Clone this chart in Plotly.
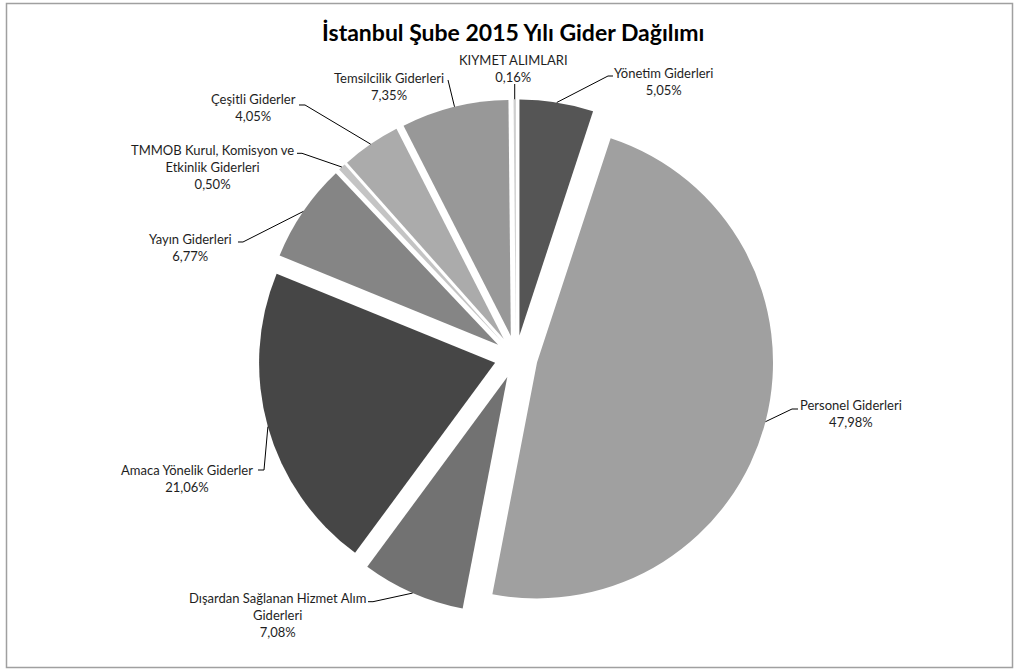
import math
import plotly.graph_objects as go

# ---------------- data ----------------
categories = [
    "Yönetim Giderleri",
    "Personel Giderleri",
    "Dışardan Sağlanan Hizmet Alım Giderleri",
    "Amaca Yönelik Giderler",
    "Yayın Giderleri",
    "TMMOB Kurul, Komisyon ve Etkinlik Giderleri",
    "Çeşitli Giderler",
    "Temsilcilik Giderleri",
    "KIYMET ALIMLARI",
]
values = [5.05, 47.98, 7.08, 21.06, 6.77, 0.50, 4.05, 7.35, 0.16]
label_lines = [
    ["Yönetim Giderleri"],
    ["Personel Giderleri"],
    ["Dışardan Sağlanan Hizmet Alım", "Giderleri"],
    ["Amaca Yönelik Giderler"],
    ["Yayın Giderleri"],
    ["TMMOB Kurul, Komisyon ve", "Etkinlik Giderleri"],
    ["Çeşitli Giderler"],
    ["Temsilcilik Giderleri"],
    ["KIYMET ALIMLARI"],
]
title_text = "İstanbul Şube 2015 Yılı Gider Dağılımı"

# ---------------- styles / layout ----------------
colors = ["#555555", "#a0a0a0", "#727272", "#464646", "#858585",
          "#c4c4c4", "#ababab", "#989898", "#cfcfcf"]
W, H = 1020, 670
PULL = 0.092
CX, CY, R = 516.0, 357.0, 236.0          # pie centre / radius in px
FONT = "Lato, 'Open Sans', sans-serif"
TXT = "#1e1e1e"
FS = 13

# label placement: (anchor x px, block centre y px, xanchor)
label_pos = [
    (613, 81.5, "left"),
    (799, 413.8, "left"),
    (367, 615, "right"),
    (254, 478.5, "right"),
    (233, 247.5, "right"),
    (295, 167.3, "right"),
    (297, 107.5, "right"),
    (445, 86.5, "right"),
    (513, 68.5, "center"),
]
# leader elbow points in px (after the arc point)
leader_pts = [
    [(608, 76), (613, 76)],
    [(792, 409), (798, 409)],
    [(373, 601.7), (368, 601.7)],
    [(264, 470), (258, 470)],
    [(243, 242), (238, 242)],
    [(302, 153.3), (297, 153.3)],
    [(305, 105), (299, 105)],
    [(448, 80)],
    [None],
]

def px2paper(x, y):
    return x / W, 1 - y / H

# pie domain derived from centre / radius (plotly: r = min(box)/(2+2*pull))
box = 2 * R * (1 + PULL)
dom_y = [1 - (CY + box / 2) / H, 1 - (CY - box / 2) / H]
dom_x = [(CX - 360) / W, (CX + 360) / W]

fig = go.Figure(go.Pie(
    labels=categories,
    values=values,
    sort=False,
    direction="clockwise",
    rotation=0,
    pull=[PULL] * len(values),
    marker=dict(colors=colors, line=dict(width=0)),
    textinfo="none",
    hoverinfo="label+percent",
    domain=dict(x=dom_x, y=dom_y),
    showlegend=False,
))

total = sum(values)
shapes, annotations = [], []
cum = 0.0
for i, v in enumerate(values):
    mid = (cum + v / 2) / total * 2 * math.pi
    cum += v
    dx, dy = math.sin(mid), -math.cos(mid)
    scx, scy = CX + PULL * R * dx, CY + PULL * R * dy
    ax, ay = scx + R * dx, scy + R * dy
    pts = [(ax, ay)]
    for p in leader_pts[i]:
        if p is None:
            pts.append((ax, 84))
        else:
            pts.append(p)
    path = "M " + " L ".join("%f,%f" % px2paper(x, y) for x, y in pts)
    shapes.append(dict(type="path", path=path, xref="paper", yref="paper",
                       line=dict(color="#000000", width=1)))
    pct = ("%.2f" % v).replace(".", ",") + "%"
    text = "<br>".join(label_lines[i] + [pct])
    lx, ly, xa = label_pos[i]
    px, py = px2paper(lx, ly)
    annotations.append(dict(x=px, y=py, xref="paper", yref="paper", text=text,
                            showarrow=False, xanchor=xa, yanchor="middle",
                            align="center", borderpad=0,
                            font=dict(family=FONT, size=FS, color=TXT)))

# chart border
x0, y0 = px2paper(6.5, 3.5)
x1, y1 = px2paper(1012.5, 667.5)
shapes.append(dict(type="rect", xref="paper", yref="paper", x0=x0, y0=y1,
                   x1=x1, y1=y0, line=dict(color="#a0a0a0", width=1.5),
                   layer="below"))

tx, ty = px2paper(513, 32)
annotations.append(dict(x=tx, y=ty, xref="paper", yref="paper",
                        text="<b>" + title_text + "</b>", showarrow=False,
                        xanchor="center", yanchor="middle",
                        font=dict(family=FONT, size=23, color="#000000")))

fig.update_layout(
    width=W, height=H,
    margin=dict(l=0, r=0, t=0, b=0),
    paper_bgcolor="#ffffff",
    plot_bgcolor="#ffffff",
    shapes=shapes,
    annotations=annotations,
)

fig.write_html("out.html",
               config={"displayModeBar": False},
               post_script="document.body.style.margin='0';"
                           "document.body.style.padding='0';")
